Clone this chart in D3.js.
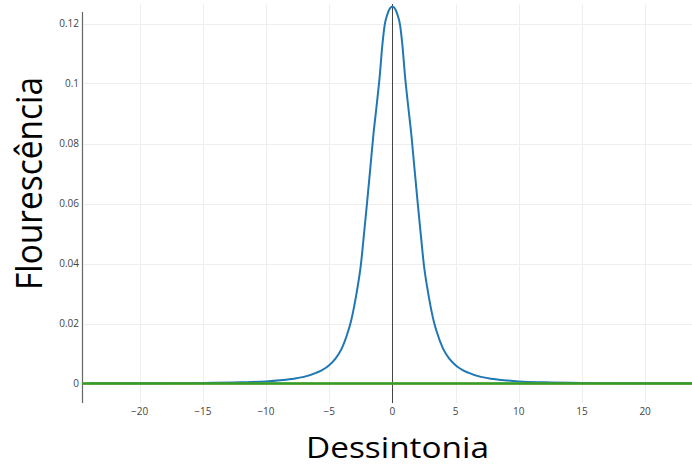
<!DOCTYPE html>
<html>
<head>
<meta charset="utf-8">
<script src="https://cdn.jsdelivr.net/npm/d3@7"></script>
<style>
  html, body { margin: 0; padding: 0; background: #fff; }
  svg { display: block; }
</style>
</head>
<body>
<svg id="chart" width="692" height="468"></svg>
<script>
// Detuning (x) and fluorescence (y) of the resonance curve
const detuning = [
  -24, -20, -15, -12, -10, -8, -7, -6, -5, -4.5, -4, -3.5, -3.3, -3, -2.75,
  -2.5, -2.25, -2, -1.75, -1.5, -1.25, -1, -0.8, -0.6, -0.4, -0.2, 0,
  0.2, 0.4, 0.6, 0.8, 1, 1.25, 1.5, 1.75, 2, 2.25, 2.5, 2.75, 3, 3.3,
  3.5, 4, 4.5, 5, 6, 7, 8, 10, 12, 15, 20, 24
];
const fluorescence = [
  0.00005, 0.0001, 0.0002, 0.0004, 0.0007, 0.0015, 0.0022, 0.0036, 0.0061, 0.0083, 0.0117, 0.0174, 0.0203, 0.0262, 0.0322,
  0.0393, 0.0496, 0.0604, 0.0716, 0.0830, 0.0925, 0.1025, 0.1125, 0.1197, 0.1230, 0.1250, 0.1257,
  0.1250, 0.1230, 0.1197, 0.1125, 0.1025, 0.0925, 0.0830, 0.0716, 0.0604, 0.0496, 0.0393, 0.0322, 0.0262, 0.0203,
  0.0174, 0.0117, 0.0083, 0.0061, 0.0036, 0.0022, 0.0015, 0.0007, 0.0004, 0.0002, 0.0001, 0.00005
];
// Two flat traces lying on zero
const flatX = [-24.6, 23.8];
const flatOrange = [0, 0];
const flatGreen = [0, 0];

const xTicks = [-20, -15, -10, -5, 0, 5, 10, 15, 20];
const yTicks = [0, 0.02, 0.04, 0.06, 0.08, 0.1, 0.12];

const svg = d3.select("#chart");
const plot = { left: 82, right: 692, top: 4, bottom: 403 };

const x = d3.scaleLinear().domain([-24.56, 23.71]).range([plot.left, plot.right]);
const y = d3.scaleLinear().domain([-0.0065, 0.1265]).range([plot.bottom, plot.top]);

// grid
const grid = svg.append("g");
grid.selectAll("line.vg").data(xTicks.filter(d => d !== 0)).join("line")
  .attr("x1", d => Math.round(x(d)) + 0.5).attr("x2", d => Math.round(x(d)) + 0.5)
  .attr("y1", plot.top).attr("y2", plot.bottom)
  .attr("stroke", "#eeeeee").attr("stroke-width", 1);
grid.selectAll("line.hg").data(yTicks.filter(d => d !== 0)).join("line")
  .attr("x1", plot.left).attr("x2", plot.right)
  .attr("y1", d => Math.round(y(d)) + 0.5).attr("y2", d => Math.round(y(d)) + 0.5)
  .attr("stroke", "#eeeeee").attr("stroke-width", 1);

// zero line for x
svg.append("line")
  .attr("x1", Math.round(x(0)) + 0.5).attr("x2", Math.round(x(0)) + 0.5)
  .attr("y1", plot.top).attr("y2", plot.bottom)
  .attr("stroke", "#444").attr("stroke-width", 1);

// y axis line
svg.append("line")
  .attr("x1", plot.left + 0.5).attr("x2", plot.left + 0.5)
  .attr("y1", 12).attr("y2", plot.bottom)
  .attr("stroke", "#666").attr("stroke-width", 1.2);

svg.append("clipPath").attr("id", "clip").append("rect")
  .attr("x", plot.left).attr("y", plot.top)
  .attr("width", plot.right - plot.left).attr("height", plot.bottom - plot.top);

const traces = svg.append("g").attr("clip-path", "url(#clip)");
const line = d3.line().x(d => x(d[0])).y(d => y(d[1])).curve(d3.curveMonotoneX);

traces.append("path")
  .datum(d3.zip(detuning, fluorescence))
  .attr("d", line).attr("fill", "none")
  .attr("stroke", "#1f77b4").attr("stroke-width", 2);
traces.append("path")
  .datum(d3.zip(flatX, flatOrange))
  .attr("d", line).attr("fill", "none")
  .attr("stroke", "#ff7f0e").attr("stroke-width", 2);
traces.append("path")
  .datum(d3.zip(flatX, flatGreen))
  .attr("d", line).attr("fill", "none")
  .attr("stroke", "#2ca02c").attr("stroke-width", 2.4);

// tick labels
const fmtX = d => (d < 0 ? "\u2212" + Math.abs(d) : String(d));
svg.append("g").selectAll("text").data(xTicks).join("text")
  .attr("x", d => x(d)).attr("y", 415)
  .attr("text-anchor", "middle")
  .attr("font-family", "'Open Sans', 'DejaVu Sans', sans-serif")
  .attr("font-size", 10).attr("fill", "#444")
  .text(fmtX);

svg.append("g").selectAll("text").data(yTicks).join("text")
  .attr("x", 79).attr("y", d => y(d) + 3.5)
  .attr("text-anchor", "end")
  .attr("font-family", "'Open Sans', 'DejaVu Sans', sans-serif")
  .attr("font-size", 10).attr("fill", "#444")
  .text(d => String(d));

// axis titles
svg.append("text")
  .attr("x", 306).attr("y", 458)
  .attr("font-family", "'Open Sans', 'Noto Sans', sans-serif")
  .attr("font-size", 29).attr("fill", "#000")
  .attr("textLength", 183).attr("lengthAdjust", "spacingAndGlyphs")
  .text("Dessintonia");

svg.append("text")
  .attr("transform", "translate(42,290) rotate(-90)")
  .attr("x", 0).attr("y", 0)
  .attr("font-family", "'Open Sans', 'Noto Sans', sans-serif")
  .attr("font-size", 36).attr("fill", "#000")
  .attr("textLength", 213).attr("lengthAdjust", "spacingAndGlyphs")
  .text("Flourescência");
</script>
</body>
</html>
